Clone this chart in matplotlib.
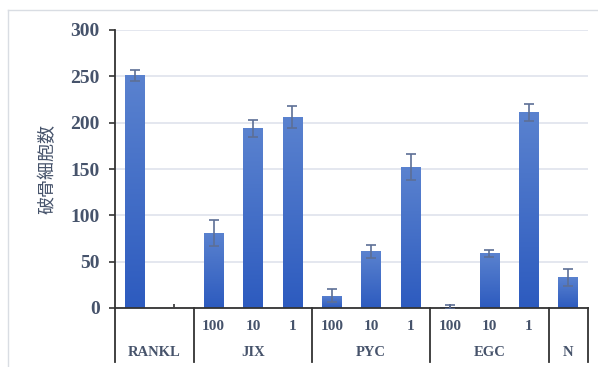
import numpy as np
import matplotlib
matplotlib.use('Agg')
import matplotlib.pyplot as plt
from matplotlib.lines import Line2D

# data
groups = ['RANKL', 'JIX', 'PYC', 'EGC', 'N']
group_sizes = [2, 3, 3, 3, 1]
doses = ['', '', '100', '10', '1', '100', '10', '1', '100', '10', '1', '']
values = [251, np.nan, 81, 194, 206, 13, 61, 152, 1, 59, 211, 33]
errors = [6, 0, 14, 9, 12, 7, 7, 14, 2, 4, 9, 9]

txt = '#46536b'
serif = 'Liberation Serif'

fig = plt.figure(figsize=(5.98, 3.67), dpi=100)
ax = fig.add_axes([115/598, 1 - 308/367, (588 - 115)/598, (308 - 30)/367])

x = np.arange(len(values))
vals = np.nan_to_num(values)
bars = ax.bar(x, vals, width=0.5, color='#4472c4', zorder=2)

# vertical gradient inside each bar
grad = np.linspace(0, 1, 100).reshape(-1, 1)
cmap = matplotlib.colors.LinearSegmentedColormap.from_list('g', ['#2d5bbf', '#5a82cf'])
for b in bars:
    if b.get_height() <= 0:
        continue
    im = ax.imshow(grad, cmap=cmap, aspect='auto', origin='lower', zorder=2.1,
                   extent=[b.get_x(), b.get_x() + b.get_width(), 0, b.get_height()])
    im.set_clip_path(b)

mask = ~np.isnan(values)
ax.errorbar(x[mask], vals[mask], yerr=np.array(errors)[mask], fmt='none',
            ecolor='#5d6f96', elinewidth=1.2, capsize=3.5, capthick=1.2, zorder=3)

ax.set_xlim(-0.5, len(values) - 0.5)
ax.set_ylim(0, 300)
ax.set_yticks(range(0, 301, 50))
ax.yaxis.grid(True, color='#dfe3ec', linewidth=1.2, zorder=0)
ax.set_axisbelow(True)
for s in ['top', 'right']:
    ax.spines[s].set_visible(False)
ax.spines['left'].set_color('#333333')
ax.spines['bottom'].set_color('#333333')
ax.spines['left'].set_linewidth(1.3)
ax.spines['bottom'].set_linewidth(1.3)
ax.tick_params(axis='y', length=4, width=1.2, color='#333333', labelsize=14,
               labelcolor=txt, pad=7)
for lab in ax.get_yticklabels():
    lab.set_fontfamily(serif)
    lab.set_fontweight('bold')
ax.set_xticks(x)
ax.set_xticklabels([''] * len(x))
ax.tick_params(axis='x', direction='in', length=3, width=1.2, color='#333333')

# dose labels and group labels
tr = ax.get_xaxis_transform()
for i, d in enumerate(doses):
    ax.text(i, -19/278, d, transform=tr, ha='center', va='center',
            fontsize=11, fontfamily=serif, fontweight='bold', color=txt)
edges = np.concatenate([[0], np.cumsum(group_sizes)]) - 0.5
for i, g in enumerate(groups):
    c = (edges[i] + edges[i + 1]) / 2
    ax.text(c, -44/278, g, transform=tr, ha='center', va='center',
            fontsize=10.5, fontfamily=serif, fontweight='bold', color=txt)
for e in edges:
    ax.add_line(Line2D([e, e], [0, -54/278], transform=tr, color='#333333',
                       linewidth=1.3, clip_on=False))

ax.set_ylabel('破骨細胞数', fontsize=13, color=txt,
              fontfamily=['Noto Sans CJK JP', 'DejaVu Sans'], labelpad=10)

# outer frame
fig.add_artist(Line2D([8/598, 8/598], [0, 1 - 10/367], color='#d9dde3', linewidth=1))
fig.add_artist(Line2D([8/598, 1], [1 - 10/367, 1 - 10/367], color='#d9dde3', linewidth=1))

fig.savefig('out.png', dpi=100)
